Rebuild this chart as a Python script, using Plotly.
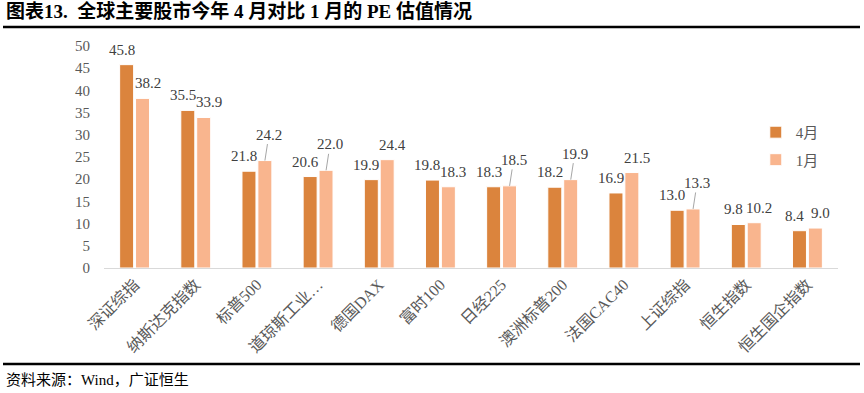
import plotly.graph_objects as go

categories = ["深证综指", "纳斯达克指数", "标普500", "道琼斯工业…", "德国DAX", "富时100",
              "日经225", "澳洲标普200", "法国CAC40", "上证综指", "恒生指数", "恒生国企指数"]
apr = [45.8, 35.5, 21.8, 20.6, 19.9, 19.8, 18.3, 18.2, 16.9, 13.0, 9.8, 8.4]
jan = [38.2, 33.9, 24.2, 22.0, 24.4, 18.3, 18.5, 19.9, 21.5, 13.3, 10.2, 9.0]
y_ticks = [0, 5, 10, 15, 20, 25, 30, 35, 40, 45, 50]

SERIF = "Times New Roman, Liberation Serif, Noto Sans CJK SC, serif"
C_APR = "#DB843D"
C_JAN = "#F9B58E"
LABEL_FONT = dict(family=SERIF, size=15, color="#404040")

W, H = 864, 393
L, R, T, B = 104, 26, 46, 125
PW = W - L - R
PH = H - T - B

fig = go.Figure()
fig.add_trace(go.Bar(
    name="4月", x=categories, y=apr, legendgroup="a",
    marker=dict(color=C_APR, line=dict(color="white", width=1)),
))
fig.add_trace(go.Bar(
    name="1月", x=categories, y=jan, legendgroup="b",
    marker=dict(color=C_JAN, line=dict(color="white", width=1)),
))

# data labels
for c, a, j in zip(categories, apr, jan):
    fig.add_annotation(x=c, y=a, text=f"{a:.1f}", showarrow=False, xshift=-13, yshift=5,
                       yanchor="bottom", font=LABEL_FONT)
    lift = 0 < j - a < 3 and a > 12
    if lift:
        fig.add_annotation(x=c, y=j, text=f"{j:.1f}", showarrow=True, arrowhead=0,
                           arrowwidth=1, arrowcolor="#A6A6A6", ax=4, ay=-26, standoff=0,
                           xshift=8, font=LABEL_FONT)
    else:
        fig.add_annotation(x=c, y=j, text=f"{j:.1f}", showarrow=False, xshift=13, yshift=5,
                           yanchor="bottom", font=LABEL_FONT)

fig.update_layout(
    width=W, height=H,
    margin=dict(l=L, r=R, t=T, b=B, autoexpand=False),
    paper_bgcolor="white", plot_bgcolor="white",
    barmode="group", bargap=0.48, bargroupgap=0.12,
    font=dict(family=SERIF, color="#595959"),
    legend=dict(x=0.888, y=0.685, xanchor="left", yanchor="top", itemwidth=30,
                font=dict(family=SERIF, size=15, color="#595959"),
                bgcolor="rgba(0,0,0,0)", tracegroupgap=5),
    xaxis=dict(tickangle=-45, tickfont=dict(family=SERIF, size=16, color="#595959"),
               showline=True, linecolor="#D9D9D9", linewidth=1, ticks="", showgrid=False,
               automargin=False),
    yaxis=dict(range=[0, 50], tickvals=y_ticks, tickfont=dict(family=SERIF, size=15, color="#595959"),
               showgrid=False, zeroline=False, showline=False, ticks="", ticklabelstandoff=13,
               automargin=False),
    showlegend=True,
)

def px_x(x):
    return (x - L) / PW

def px_y(y):
    return (H - B - y) / PH

fig.add_annotation(text="<b>图表13.  全球主要股市今年 4 月对比 1 月的 PE 估值情况</b>",
                   xref="paper", yref="paper", x=px_x(4), y=px_y(11), xanchor="left", yanchor="middle",
                   showarrow=False, font=dict(family=SERIF, size=19, color="black"))
fig.add_annotation(text="资料来源：Wind，广证恒生",
                   xref="paper", yref="paper", x=px_x(4), y=px_y(380), xanchor="left", yanchor="middle",
                   showarrow=False, font=dict(family=SERIF, size=15, color="black"))
fig.add_shape(type="line", xref="paper", yref="paper", x0=px_x(3), x1=px_x(860), y0=px_y(27), y1=px_y(27),
              line=dict(color="black", width=2.5))
fig.add_shape(type="line", xref="paper", yref="paper", x0=px_x(3), x1=px_x(860), y0=px_y(364), y1=px_y(364),
              line=dict(color="black", width=2.5))

fig.write_html("out.html", config={"displayModeBar": False},
               post_script="document.body.style.margin='0';")
